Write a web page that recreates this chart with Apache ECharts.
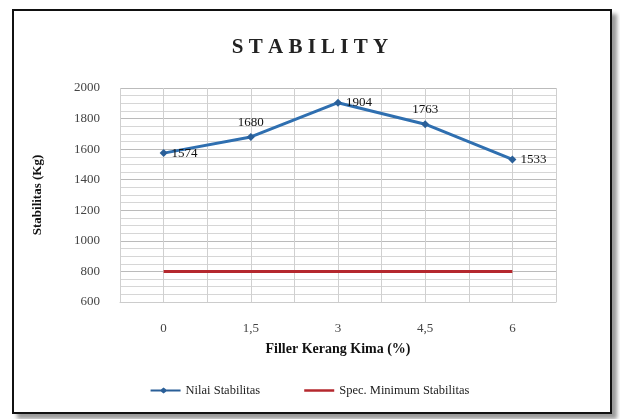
<!DOCTYPE html>
<html><head><meta charset="utf-8">
<script src="https://cdn.jsdelivr.net/npm/echarts@6/dist/echarts.min.js"></script>
<style>
html,body{margin:0;padding:0;background:#fff;}
#frame{position:absolute;left:12px;top:9px;width:596px;height:401px;border:2px solid #111;box-shadow:5px 5px 4px #999;background:#fff;}
#c{position:absolute;left:0;top:0;width:620px;height:419px;}
</style>
</head><body>
<div id="frame"></div>
<div id="c"></div>
<script>
const categories = ['0', '1,5', '3', '4,5', '6'];
const nilaiStabilitas = [1574, 1680, 1904, 1763, 1533];
const specMinimum = [800, 800, 800, 800, 800];
const labelPositions = ['right', 'top', 'right', 'top', 'right'];
const halfSteps = ['a','b','c','d','e','f','g','h','i','j'];

const serif = 'Liberation Serif';
const chart = echarts.init(document.getElementById('c'));
chart.setOption({
  backgroundColor: 'transparent',
  animation: false,
  title: {
    text: 'S T A B I L I T Y', left: 'center', top: 32,
    textStyle: { fontFamily: serif, fontWeight: 'bold', fontSize: 21, color: '#222' }
  },
  grid: { left: 120, right: 64, top: 88, bottom: 117 },
  legend: {
    bottom: 17, left: 'center', itemGap: 44, itemWidth: 30,
    textStyle: { fontFamily: serif, fontSize: 12.5, color: '#222' },
    data: [
      { name: 'Nilai Stabilitas', icon: 'path://M0,4L30,4L30,6L0,6Z M13,2L17,5L13,8L9,5Z' },
      { name: 'Spec. Minimum Stabilitas', icon: 'path://M0,4L30,4L30,6.5L0,6.5Z' }
    ]
  },
  xAxis: [{
    type: 'category', data: categories, boundaryGap: true,
    name: 'Filler Kerang Kima (%)', nameLocation: 'middle', nameGap: 40,
    nameTextStyle: { fontFamily: serif, fontWeight: 'bold', fontSize: 14, color: '#111' },
    axisLine: { show: true, lineStyle: { color: '#ccc' } },
    axisTick: { show: false },
    axisLabel: { fontFamily: serif, fontSize: 13, color: '#444', margin: 20 },
    splitLine: { show: false }
  }, {
    type: 'category', data: halfSteps, boundaryGap: true, position: 'bottom',
    axisLine: { show: false }, axisTick: { show: false }, axisLabel: { show: false },
    splitLine: { show: true, lineStyle: { color: '#d0d0d0', width: 1 } }
  }],
  yAxis: {
    type: 'value', min: 600, max: 2000, interval: 200,
    name: 'Stabilitas (Kg)', nameLocation: 'middle', nameGap: 76, nameRotate: 90,
    nameTextStyle: { fontFamily: serif, fontWeight: 'bold', fontSize: 13, color: '#111' },
    axisLine: { show: false }, axisTick: { show: false },
    axisLabel: { fontFamily: serif, fontSize: 13, color: '#444', margin: 20, formatter: v => String(v) },
    splitLine: { show: true, lineStyle: { color: '#bbb' } },
    minorTick: { show: false, splitNumber: 4 },
    minorSplitLine: { show: true, lineStyle: { color: '#d6d6d6' } }
  },
  series: [{
    name: 'Nilai Stabilitas', type: 'line', data: nilaiStabilitas.map((v, i) => ({
      value: v, label: { position: labelPositions[i] }
    })),
    color: '#2f6fb0',
    lineStyle: { width: 3, color: '#2f6fb0' },
    symbol: 'diamond', symbolSize: 8,
    itemStyle: { color: '#2a5f98' },
    label: { show: true, fontFamily: serif, fontSize: 13, color: '#111', distance: 4 },
    z: 3
  }, {
    name: 'Spec. Minimum Stabilitas', type: 'line', data: specMinimum,
    color: '#b5282e',
    lineStyle: { width: 3, color: '#b5282e' },
    symbol: 'none'
  }]
});
</script>
</body></html>
